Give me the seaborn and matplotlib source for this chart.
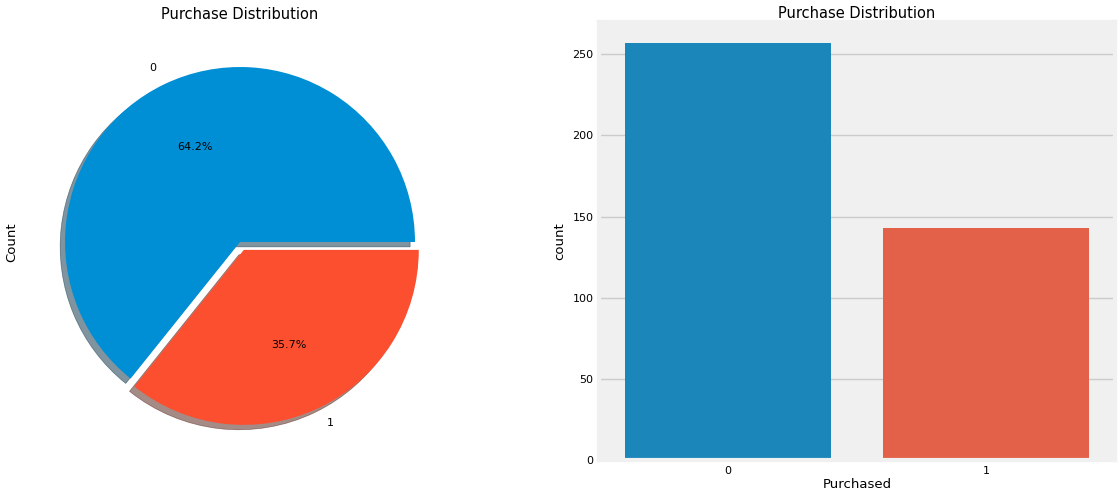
import matplotlib
matplotlib.use("Agg")
import matplotlib.pyplot as plt
import seaborn as sns
import pandas as pd
import numpy as np

categories = ["0", "1"]
counts = [257, 143]
colors = ["#008fd5", "#fc4f30"]

plt.style.use("fivethirtyeight")
plt.rcParams["font.family"] = ["DejaVu Sans"]
plt.rcParams["figure.facecolor"] = "white"
plt.rcParams["savefig.facecolor"] = "white"


def pct_fmt(p):
    # matplotlib computes the fraction in float32; format it the way older numpy did
    frac = np.float32(p) / np.float32(100)
    return "%1.1f%%" % (float(frac) * 100.0)


fig = plt.figure(figsize=(11.2, 4.96), dpi=100)

# Pie
ax1 = fig.add_axes([0.019, 0.0711, 0.3906, 0.882])
ax1.pie(counts, labels=categories, autopct=pct_fmt,
        explode=[0, 0.05], shadow=True, colors=colors, textprops={"fontsize": 8})
ax1.set_facecolor("white")
ax1.set_title("Purchase Distribution", fontsize=10.5, pad=3)
ax1.set_ylabel("Count", fontsize=9.5, labelpad=2)

# Bar
ax2 = fig.add_axes([0.5348, 0.0726, 0.4607, 0.883])
df = pd.DataFrame({"Purchased": categories, "count": counts})
sns.barplot(data=df, x="Purchased", y="count", hue="Purchased",
            palette=colors, legend=False, ax=ax2)
ax2.set_title("Purchase Distribution", fontsize=10.5, pad=3)
ax2.set_xlabel("Purchased", fontsize=9.5, labelpad=2)
ax2.set_ylabel("count", fontsize=9.5)
ax2.tick_params(labelsize=8, pad=4)
ax2.xaxis.grid(False)

fig.savefig("out.png", dpi=100)
